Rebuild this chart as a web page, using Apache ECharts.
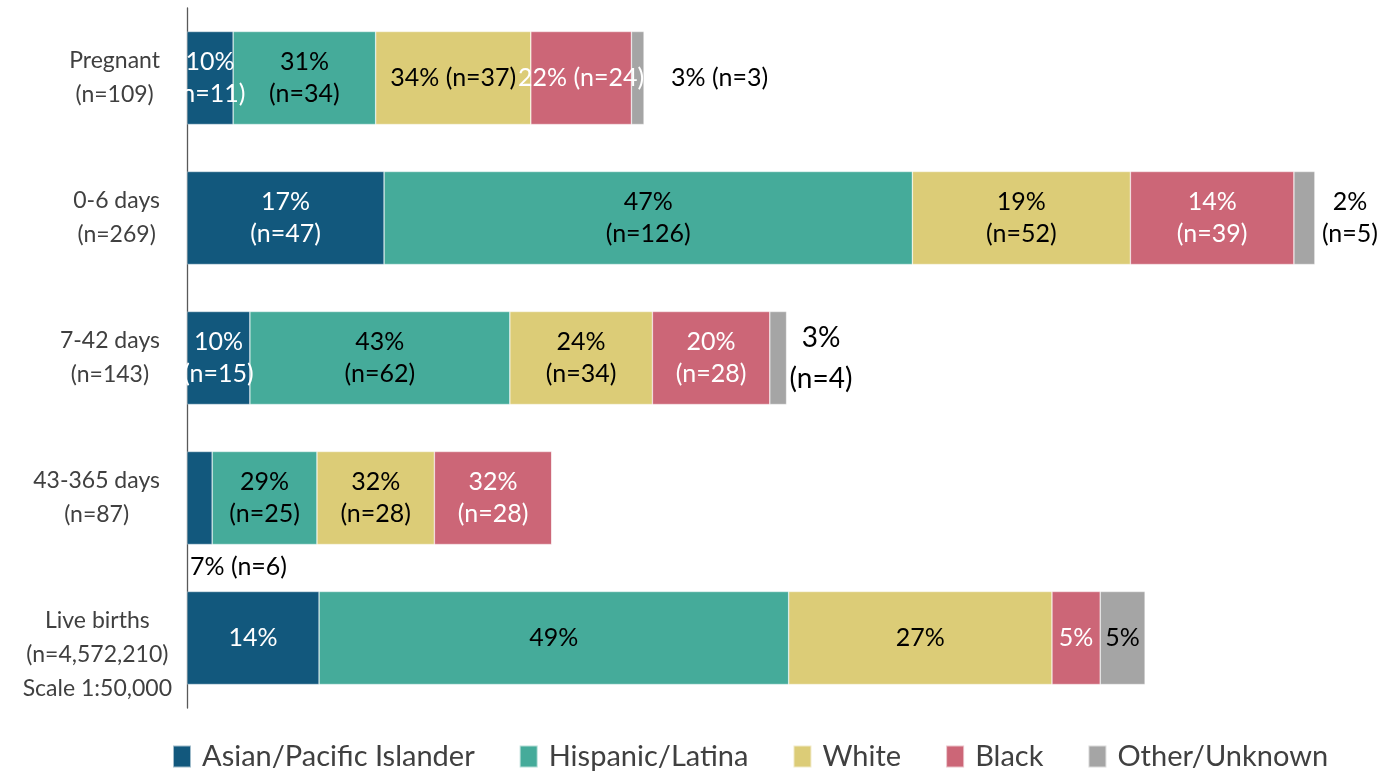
<!DOCTYPE html>
<html>
<head>
<meta charset="utf-8">
<script src="https://cdn.jsdelivr.net/npm/echarts@6/dist/echarts.min.js"></script>
<style>
html,body{margin:0;padding:0;background:#fff;}
#chart{width:1393px;height:771px;}
</style>
</head>
<body>
<div id="chart"></div>
<script>
// ---- data ----
const categories = ['Pregnant\n(n=109)', '0-6 days\n(n=269)', '7-42 days\n(n=143)', '43-365 days\n(n=87)', 'Live births\n(n=4,572,210)\nScale 1:50,000'];
const seriesNames = ['Asian/Pacific Islander', 'Hispanic/Latina', 'White', 'Black', 'Other/Unknown'];
// bar lengths (counts; live births drawn at its scaled length)
const asianVals    = [11, 47, 15, 6, 31.5];
const hispanicVals = [34, 126, 62, 25, 112];
const whiteVals    = [37, 52, 34, 28, 62.8];
const blackVals    = [24, 39, 28, 28, 11.5];
const otherVals    = [3, 5, 4, 0, 10.7];
// percentages shown in labels
const asianPct    = [10, 17, 10, 7, 14];
const hispanicPct = [31, 47, 43, 29, 49];
const whitePct    = [34, 19, 24, 32, 27];
const blackPct    = [22, 14, 20, 32, 5];
const otherPct    = [3, 2, 3, 0, 5];

const colors = ['#12587d', '#45ab9a', '#dccc77', '#cc6677', '#a5a5a5'];
const labelColors = ['#ffffff', '#000000', '#000000', '#ffffff', '#000000'];
const FONT = 'Lato, "Open Sans", sans-serif';
const LFS = 25;

const vals = [asianVals, hispanicVals, whiteVals, blackVals, otherVals];
const pcts = [asianPct, hispanicPct, whitePct, blackPct, otherPct];

function labelText(s, i) {
  const p = pcts[s][i];
  if (i === 4) return p + '%';
  return p + '%\n(n=' + vals[s][i] + ')';
}

function centered(text) {
  return text.split('\n').map(t => '{c|' + t + '}').join('\n');
}

// special label placements
const overrides = {
  '2-0': { formatter: '34% (n=37)' },
  '3-0': { formatter: '22% (n=24)' },
  '4-0': { position: 'right', distance: 27, color: '#000', formatter: '3% (n=3)' },
  '4-1': { position: 'right', distance: 7, color: '#000', centeredText: true },
  '4-2': { position: 'right', distance: 3, color: '#000', fontSize: 28, lineHeight: 41, centeredText: true },
  '0-3': { position: [3, 99], align: 'left', verticalAlign: 'top', color: '#000', formatter: '7% (n=6)' },
  '4-3': { show: false }
};

const series = seriesNames.map((name, s) => ({
  name: name,
  type: 'bar',
  stack: 'total',
  barWidth: 93,
  itemStyle: { color: colors[s], borderColor: 'rgba(255,255,255,0.6)', borderWidth: 0.6 },
  emphasis: { disabled: true },
  label: {
    show: true,
    position: 'inside',
    color: labelColors[s],
    fontSize: LFS,
    lineHeight: 32,
    fontFamily: FONT
  },
  data: vals[s].map((v, i) => {
    const key = s + '-' + i;
    const o = overrides[key] || {};
    const lbl = Object.assign({}, o);
    let txt = o.formatter || labelText(s, i);
    delete lbl.centeredText;
    if (o.centeredText) {
      const fs = o.fontSize || LFS, lh = o.lineHeight || 32;
      lbl.formatter = centered(txt);
      lbl.rich = { c: { align: 'center', fontSize: fs, lineHeight: lh, color: o.color || labelColors[s], fontFamily: FONT } };
    } else {
      lbl.formatter = txt;
    }
    return { value: v, label: lbl };
  })
}));

const yData = categories.map((c, i) => i === 4
  ? { value: c, textStyle: { padding: [34, 0, 0, 0] } }
  : { value: c, textStyle: { padding: [0, 12, 0, 0] } });

const chart = echarts.init(document.getElementById('chart'), null, { renderer: 'canvas' });
chart.setOption({
  animation: false,
  color: colors,
  grid: { left: 187, top: 8, bottom: 63, right: 32, containLabel: false },
  xAxis: {
    type: 'value',
    min: 0,
    max: 280,
    show: false
  },
  yAxis: {
    type: 'category',
    inverse: true,
    data: yData,
    axisLine: { show: true, lineStyle: { color: '#595959', width: 1.3 } },
    axisTick: { show: false },
    axisLabel: {
      margin: 15,
      align: 'right',
      formatter: v => centered(v),
      rich: { c: { align: 'center', fontSize: 23, lineHeight: 34, color: '#404040', fontFamily: FONT } }
    }
  },
  legend: {
    left: 167,
    top: 737,
    itemWidth: 18,
    itemHeight: 22,
    itemGap: 44,
    icon: 'rect',
    textStyle: { fontSize: 29, color: '#404040', fontFamily: FONT, padding: [0, 0, 0, 6] },
    data: seriesNames
  },
  series: series
});
</script>
</body>
</html>
